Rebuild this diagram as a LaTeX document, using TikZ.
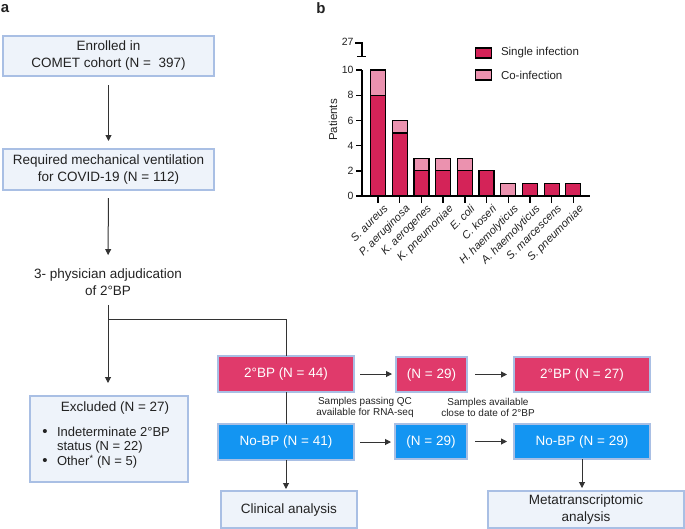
\documentclass[tikz,border=0pt]{standalone}
\usepackage{fontspec}
\setmainfont{Liberation Sans}
\usetikzlibrary{arrows.meta}
\definecolor{boxfill}{HTML}{EEF3FA}
\definecolor{boxedge}{HTML}{A9BFE4}
\definecolor{bpred}{HTML}{E03A6B}
\definecolor{nobpblue}{HTML}{1395F2}
\definecolor{singlec}{HTML}{D42358}
\definecolor{coinf}{HTML}{EB92AF}
\definecolor{linec}{HTML}{333333}
\definecolor{txt}{HTML}{222222}
\begin{document}
\begin{tikzpicture}[x=1pt,y=-1pt,
  every node/.style={inner sep=0pt, outer sep=0pt, text=txt},
  basebox/.style={draw=boxedge, line width=1.1pt, align=center, font=\fontsize{13.5}{17}\selectfont},
  lightbox/.style={basebox, fill=boxfill},
  redbox/.style={basebox, fill=bpred, text=white},
  bluebox/.style={basebox, fill=nobpblue, text=white},
  flow/.style={draw=linec, line width=1pt},
  arr/.style={flow, -{Triangle[width=6pt,length=6pt]}},
  note/.style={align=center, font=\fontsize{10}{11.5}\selectfont},
  panel/.style={font=\fontsize{15}{17}\selectfont\bfseries},
  axis/.style={draw=black, line width=1.4pt},
  bar/.style={draw=black, line width=1.2pt},
  ticklab/.style={font=\fontsize{10.5}{12}\selectfont, anchor=east},
  species/.style={font=\fontsize{11}{12}\selectfont\itshape, rotate=45, anchor=north east},
  legtxt/.style={font=\fontsize{11.5}{13}\selectfont, anchor=west},
  bul/.style={font=\fontsize{15}{15}\selectfont}
]
\useasboundingbox (0,0) rectangle (685,528);

% ---------- panel a ----------
\node[panel] (pa) at (5,9) {a};
\node[lightbox, minimum width=211pt, minimum height=40pt] (enrol) at (108.5,56) {Enrolled in\\COMET cohort (N =\ \ 397)};
\node[lightbox, minimum width=211pt, minimum height=41pt] (mv) at (108.5,169.5) {Required mechanical ventilation\\for COVID-19 (N = 112)};
\node[align=center, font=\fontsize{13.5}{17}\selectfont] (adj) at (108,282.5) {3- physician adjudication\\of 2°BP};
\node[lightbox, minimum width=158pt, minimum height=86pt] (excl) at (109,439) {};
\node[font=\fontsize{13.5}{16}\selectfont] (exclt) at (115,408) {Excluded (N = 27)};
\node[bul] (b1) at (45,433) {\textbullet};
\node[bul] (b2) at (45,462) {\textbullet};
\node[font=\fontsize{13}{14.5}\selectfont, align=left, anchor=west] (it1) at (57,440) {Indeterminate 2°BP\\status (N = 22)};
\node[font=\fontsize{13}{14.5}\selectfont, anchor=west] (it2) at (57,462) {Other\textsuperscript{*} (N = 5)};

\node[redbox, minimum width=136pt, minimum height=36pt] (bp44) at (286,374) {2°BP (N = 44)};
\node[bluebox, minimum width=136pt, minimum height=36pt] (nobp41) at (286,442) {No-BP (N = 41)};
\node[lightbox, minimum width=136pt, minimum height=37pt] (clin) at (289,509.5) {Clinical analysis};
\node[redbox, minimum width=71pt, minimum height=35pt] (n29a) at (431.5,374.5) {(N = 29)};
\node[bluebox, minimum width=72pt, minimum height=35pt] (n29b) at (431,441.5) {(N = 29)};
\node[redbox, minimum width=136pt, minimum height=35pt] (bp27) at (582,374.5) {2°BP (N = 27)};
\node[bluebox, minimum width=136pt, minimum height=35pt] (nobp29) at (582,441.5) {No-BP (N = 29)};
\node[lightbox, minimum width=196pt, minimum height=37pt] (meta) at (586,509.5) {Metatranscriptomic\\analysis};

\node[note] (qc) at (365,407.5) {Samples passing QC\\available for RNA-seq};
\node[note] (close) at (488,407.5) {Samples available\\close to date of 2°BP};

\draw[arr, shorten <=9pt, shorten >=8pt] (enrol) -- (mv);
\draw[arr, shorten <=8pt, shorten >=14pt] (mv) -- (adj);
\draw[arr, shorten <=9pt, shorten >=13pt] (adj) -- (excl.north -| adj.south);
\coordinate (br) at (108,319);
\draw[flow] (br) -| (bp44.north);
\draw[flow] (bp44) -- (nobp41);
\draw[arr, shorten >=2pt] (nobp41) -- (clin.north -| nobp41.south);
\draw[arr, shorten <=6pt, shorten >=4pt] (bp44.east) -- (n29a.west |- bp44.east);
\draw[arr, shorten <=6pt, shorten >=4pt] (nobp41.east) -- (n29b.west |- nobp41.east);
\draw[arr, shorten <=8pt, shorten >=7pt] (n29a) -- (bp27);
\draw[arr, shorten <=8pt, shorten >=7pt] (n29b) -- (nobp29);
\draw[arr, shorten >=3pt] (nobp29.south) -- (meta.north -| nobp29.south);

% ---------- panel b ----------
\node[panel] (pb) at (321,8) {b};
\draw[axis] (362,70) -- (362,196) -- (590,196);
\foreach \v in {0,2,4,6,8,10}{
  \pgfmathsetmacro{\yy}{196-12.6*\v}
  \draw[axis] (356,\yy) -- (362,\yy);
  \node[ticklab] at (353.5,\yy) {\v};
}
\draw[axis] (355,43) -- (362,43) -- (362,56.5);
\draw[axis] (357,56.5) -- (366,56.5);
\node[ticklab] at (353.5,42) {27};
\node[font=\fontsize{11.5}{13}\selectfont, rotate=90] (ylab) at (333,120) {Patients};

\foreach \i/\s/\c/\name in {0/8/2/S. aureus,1/5/1/P. aeruginosa,2/2/1/K. aerogenes,3/2/1/K. pneumoniae,4/2/1/E. coli,5/2/0/C. koseri,6/0/1/H. haemolyticus,7/1/0/A. haemolyticus,8/1/0/S. marcescens,9/1/0/S. pneumoniae}{
  \pgfmathsetmacro{\xc}{378+21.7*\i}
  \pgfmathsetmacro{\ys}{196-12.6*\s}
  \pgfmathsetmacro{\yt}{196-12.6*(\s+\c)}
  \ifnum\s>0 \draw[bar, fill=singlec] (\xc-7.5,196) rectangle (\xc+7.5,\ys);\fi
  \ifnum\c>0 \draw[bar, fill=coinf] (\xc-7.5,\ys) rectangle (\xc+7.5,\yt);\fi
  \draw[axis] (\xc,196) -- (\xc,203);
  \node[species] at (\xc+5,204) {\name};
}
\draw[axis] (362,196) -- (590,196);

\draw[bar, fill=singlec] (475.5,48) rectangle (491.5,58);
\node[legtxt] (l1) at (501,53) {Single infection};
\draw[bar, fill=coinf] (475.5,70) rectangle (491.5,80);
\node[legtxt] (l2) at (501,75) {Co-infection};
\end{tikzpicture}
\end{document}
